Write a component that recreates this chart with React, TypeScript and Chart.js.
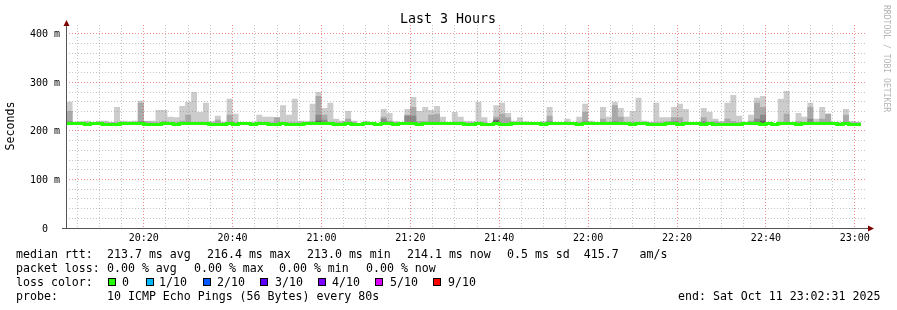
import { useEffect, useRef } from 'react';
import { Chart, registerables } from 'chart.js';

Chart.register(...registerables);

const WIDTH = 897;
const HEIGHT = 310;
const MONO = '"DejaVu Sans Mono", monospace';

// ---- time range (seconds of day) ----
const RANGE_START = '20:02:31';
const RANGE_END = '23:02:31';
const FIRST_STEP = '20:02:40';
const STEP_SECONDS = 80;

// ---- tick labels ----
const xMajorLabels = ['20:20', '20:40', '21:00', '21:20', '21:40', '22:00', '22:20', '22:40', '23:00'];
const xMinorFirst = '20:05';
const xMinorLast = '23:00';
const X_MINOR_SECONDS = 300;
const yGridValues = [0, 20, 40, 60, 80, 100, 120, 140, 160, 180, 200, 220, 240, 260, 280, 300, 320, 340, 360, 380, 400];
const yMajorValues = [0, 100, 200, 300, 400];
const yMajorLabels = ['0  ', '100 m', '200 m', '300 m', '400 m'];
const Y_MAX = 418;
const SMOKE_FLOOR = 213;

// ---- series (ms), one value per 80 s step ----
const medianRtt = [
  215, 215, 215, 213, 215, 215, 213, 213, 213, 215,
  215, 215, 215, 213, 213, 213, 215, 215, 213, 215,
  215, 215, 215, 215, 213, 213, 213, 215, 213, 215,
  215, 213, 215, 215, 213, 213, 215, 213, 213, 213,
  215, 215, 215, 215, 215, 213, 213, 215, 213, 213,
  215, 215, 213, 215, 215, 213, 215, 215, 215, 213,
  215, 215, 215, 215, 215, 215, 215, 213, 213, 215,
  213, 213, 215, 213, 213, 215, 215, 215, 215, 215,
  213, 215, 215, 215, 215, 215, 213, 215, 215, 215,
  215, 215, 215, 215, 215, 213, 215, 215, 213, 213,
  213, 215, 215, 213, 215, 215, 215, 213, 215, 213,
  213, 213, 213, 213, 215, 215, 215, 213, 215, 213,
  215, 215, 215, 213, 215, 215, 215, 215, 215, 215,
  213, 215, 213, 213,
];

const smokeMax = [
  260, 219, 220, 221, 216, 221, 221, 218, 249, 221,
  220, 221, 262, 220, 221, 243, 243, 229, 228, 251,
  260, 280, 239, 258, 220, 231, 218, 266, 235, 216,
  216, 217, 233, 229, 229, 228, 253, 233, 266, 221,
  220, 256, 280, 247, 258, 225, 221, 241, 221, 216,
  221, 218, 216, 245, 237, 220, 217, 245, 270, 241,
  249, 243, 251, 229, 217, 239, 229, 220, 220, 260,
  228, 216, 253, 258, 237, 221, 228, 220, 217, 216,
  220, 249, 218, 216, 225, 217, 229, 256, 221, 217,
  249, 229, 260, 247, 229, 241, 268, 221, 218, 258,
  228, 228, 249, 256, 245, 217, 216, 247, 239, 225,
  220, 258, 274, 231, 218, 233, 268, 272, 218, 216,
  266, 282, 218, 237, 229, 258, 225, 249, 235, 218,
  217, 245, 220, 219,
];

const smokeUpper = [
  241, 218, 218, 218, 216, 218, 218, 218, 218, 218,
  218, 218, 258, 220, 218, 218, 221, 218, 218, 221,
  233, 218, 218, 218, 218, 223, 218, 233, 218, 216,
  216, 217, 218, 218, 218, 228, 218, 218, 218, 218,
  218, 220, 272, 233, 218, 218, 218, 225, 218, 216,
  218, 218, 216, 229, 221, 218, 217, 233, 249, 220,
  220, 233, 235, 218, 217, 218, 218, 218, 218, 218,
  218, 216, 229, 235, 228, 218, 218, 218, 217, 216,
  218, 231, 218, 216, 218, 217, 218, 239, 218, 217,
  225, 218, 253, 229, 218, 218, 218, 218, 218, 218,
  218, 220, 228, 228, 218, 217, 216, 228, 218, 220,
  218, 225, 220, 218, 218, 221, 258, 249, 218, 216,
  218, 235, 218, 220, 218, 249, 218, 225, 235, 218,
  217, 233, 218, 218,
];

const smokeInner = [
  220, 216, 216, 216, 216, 216, 216, 216, 216, 216,
  216, 216, 220, 216, 216, 216, 216, 216, 216, 216,
  216, 216, 216, 216, 216, 216, 216, 216, 216, 216,
  216, 216, 216, 216, 216, 216, 216, 216, 216, 216,
  216, 216, 233, 223, 216, 216, 216, 216, 216, 216,
  216, 216, 216, 225, 216, 216, 216, 231, 231, 216,
  216, 216, 216, 216, 216, 216, 216, 216, 216, 216,
  216, 216, 224, 216, 216, 216, 216, 216, 216, 216,
  216, 220, 216, 216, 216, 216, 216, 220, 216, 216,
  216, 216, 220, 216, 216, 216, 216, 216, 216, 216,
  216, 216, 220, 216, 216, 216, 216, 220, 216, 216,
  216, 216, 216, 216, 216, 216, 225, 233, 216, 216,
  216, 216, 216, 216, 216, 225, 216, 216, 216, 216,
  216, 216, 216, 216,
];

const smokeCore = [
  215, 215, 215, 215, 215, 215, 215, 215, 215, 215,
  215, 215, 215, 215, 215, 215, 215, 215, 215, 215,
  215, 215, 215, 215, 215, 215, 215, 215, 215, 215,
  215, 215, 215, 215, 215, 215, 215, 215, 215, 215,
  215, 215, 221, 215, 215, 215, 215, 215, 215, 215,
  215, 215, 215, 215, 215, 215, 215, 215, 215, 215,
  215, 215, 215, 215, 215, 215, 215, 215, 215, 215,
  215, 215, 222, 215, 215, 215, 215, 215, 215, 215,
  215, 215, 215, 215, 215, 215, 215, 215, 215, 215,
  215, 215, 215, 215, 215, 215, 215, 215, 215, 215,
  215, 215, 215, 215, 215, 215, 215, 215, 215, 215,
  215, 215, 215, 215, 215, 215, 218, 221, 215, 215,
  215, 215, 215, 215, 215, 215, 215, 215, 215, 215,
  215, 215, 215, 215,
];

// ---- legend texts ----
const statLine1 = [
  ['median rtt:', 16], ['213.7 ms avg', 107], ['216.4 ms max', 207], ['213.0 ms min', 307],
  ['214.1 ms now', 407], ['0.5 ms sd  415.7   am/s', 507],
] as const;
const statLine2 = [
  ['packet loss:', 16], ['0.00 % avg', 107], ['0.00 % max', 194], ['0.00 % min', 279], ['0.00 % now', 366],
] as const;
const lossLabels = ['0', '1/10', '2/10', '3/10', '4/10', '5/10', '9/10'];
const lossColors = ['#26ff00', '#00b8ff', '#0059ff', '#5e00ff', '#7e00ff', '#dd00ff', '#ff0000'];
const lossBoxX = [108, 146, 203, 260, 318, 375, 433];
const lossTextX = [122, 159, 217, 275, 332, 390, 448];
const PROBE_TEXT = '10 ICMP Echo Pings (56 Bytes) every 80s';
const END_TEXT = 'end: Sat Oct 11 23:02:31 2025';
const TITLE = 'Last 3 Hours';
const Y_TITLE = 'Seconds';
const CREDIT = 'RRDTOOL / TOBI OETIKER';

const GRID = 'rgba(140,140,140,0.5)';
const MGRID = 'rgba(232,60,60,0.6)';
const AXIS = '#555555';
const ARROW = '#7f0000';

const toSec = (s: string) => {
  const p = s.split(':').map(Number);
  return p[0] * 3600 + p[1] * 60 + (p[2] || 0);
};

function stepSeries(values: number[]) {
  const first = toSec(FIRST_STEP);
  const pts = values.map((v, k) => ({ x: first + k * STEP_SECONDS, y: v }));
  pts.push({ x: first + values.length * STEP_SECONDS, y: values[values.length - 1] });
  return pts;
}

export default function App() {
  const ref = useRef<HTMLCanvasElement | null>(null);

  useEffect(() => {
    if (!ref.current) return;
    const startSec = toSec(RANGE_START);
    const endSec = toSec(RANGE_END);
    const majorSecs = xMajorLabels.map(toSec);
    const xLabelMap = new Map<number, string>();
    majorSecs.forEach((s, i) => xLabelMap.set(s, xMajorLabels[i]));
    const xTicks: number[] = [];
    for (let s = toSec(xMinorFirst); s <= toSec(xMinorLast); s += X_MINOR_SECONDS) xTicks.push(s);
    const yLabelMap = new Map<number, string>();
    yMajorValues.forEach((v, i) => yLabelMap.set(v, yMajorLabels[i]));

    const smokeDs = (data: number[], color: string) => ({
      data: stepSeries(data),
      stepped: true,
      borderWidth: 0,
      borderColor: 'rgba(0,0,0,0)',
      backgroundColor: color,
      pointRadius: 0,
      fill: { value: SMOKE_FLOOR },
    });

    const textPlugin = {
      id: 'rrdText',
      afterDraw(chart: any) {
        const ctx = chart.ctx as CanvasRenderingContext2D;
        const a = chart.chartArea;
        // median line above the grid
        ctx.save();
        ctx.beginPath();
        ctx.rect(a.left, a.top, a.right - a.left, a.bottom - a.top);
        ctx.clip();
        chart.getDatasetMeta(0).dataset.draw(ctx, a);
        ctx.restore();

        ctx.save();
        // axes
        ctx.strokeStyle = AXIS;
        ctx.lineWidth = 1;
        ctx.beginPath();
        ctx.moveTo(a.left + 0.5, a.top - 3);
        ctx.lineTo(a.left + 0.5, a.bottom + 1);
        ctx.moveTo(a.left - 4, a.bottom + 0.5);
        ctx.lineTo(a.right + 3, a.bottom + 0.5);
        ctx.stroke();
        ctx.fillStyle = ARROW;
        ctx.beginPath();
        ctx.moveTo(a.left + 0.5, a.top - 5);
        ctx.lineTo(a.left - 2.5, a.top + 1);
        ctx.lineTo(a.left + 3.5, a.top + 1);
        ctx.closePath();
        ctx.fill();
        ctx.beginPath();
        ctx.moveTo(a.right + 8, a.bottom + 0.5);
        ctx.lineTo(a.right + 2, a.bottom - 2.5);
        ctx.lineTo(a.right + 2, a.bottom + 3.5);
        ctx.closePath();
        ctx.fill();

        // title
        ctx.fillStyle = '#000';
        ctx.font = `13.3px ${MONO}`;
        ctx.textAlign = 'center';
        ctx.textBaseline = 'alphabetic';
        ctx.fillText(TITLE, 448, 23);

        // y title
        ctx.save();
        ctx.font = `11.6px ${MONO}`;
        ctx.translate(11, 126);
        ctx.rotate(-Math.PI / 2);
        ctx.textBaseline = 'middle';
        ctx.fillText(Y_TITLE, 0, 0);
        ctx.restore();

        // credit
        ctx.save();
        ctx.font = `8.1px ${MONO}`;
        ctx.fillStyle = '#b4b4b4';
        ctx.translate(886, 5);
        ctx.rotate(Math.PI / 2);
        ctx.textAlign = 'left';
        ctx.textBaseline = 'middle';
        ctx.fillText(CREDIT, 0, 0);
        ctx.restore();

        // legend
        ctx.font = `11.6px ${MONO}`;
        ctx.textAlign = 'left';
        ctx.textBaseline = 'alphabetic';
        ctx.fillStyle = '#000';
        statLine1.forEach(([t, x]) => ctx.fillText(t, x, 258));
        statLine2.forEach(([t, x]) => ctx.fillText(t, x, 272));
        ctx.fillText('loss color:', 16, 286);
        lossLabels.forEach((t, i) => {
          ctx.fillStyle = lossColors[i];
          ctx.fillRect(lossBoxX[i], 278, 8, 8);
          ctx.strokeStyle = '#000';
          ctx.strokeRect(lossBoxX[i] + 0.5, 278.5, 7, 7);
          ctx.fillStyle = '#000';
          ctx.fillText(t, lossTextX[i], 286);
        });
        ctx.fillText('probe:', 16, 300);
        ctx.fillText(PROBE_TEXT, 107, 300);
        ctx.fillText(END_TEXT, 678, 300);
        ctx.restore();
      },
    };

    const chart = new Chart(ref.current, {
      type: 'line',
      data: {
        datasets: [
          {
            data: stepSeries(medianRtt),
            stepped: true,
            borderColor: '#26ff00',
            borderWidth: 3,
            pointRadius: 0,
            fill: false,
          } as any,
          smokeDs(smokeCore, '#5a5a5a'),
          smokeDs(smokeInner, '#8a8a8a'),
          smokeDs(smokeUpper, '#a9a9a9'),
          smokeDs(smokeMax, '#cccccc'),
        ],
      },
      options: {
        animation: false,
        responsive: false,
        devicePixelRatio: 1,
        layout: { padding: { left: 0, right: 31, top: 25, bottom: 0 } },
        plugins: { legend: { display: false }, tooltip: { enabled: false }, title: { display: false } },
        scales: {
          x: {
            type: 'linear',
            min: startSec,
            max: endSec,
            afterBuildTicks: (s: any) => { s.ticks = xTicks.map((v) => ({ value: v })); },
            afterFit: (s: any) => { s.height = HEIGHT - 228; },
            grid: {
              z: 1,
              drawTicks: false,
              lineWidth: 1,
              color: (c: any) => (xLabelMap.has(c.tick?.value) ? MGRID : GRID),
            },
            border: { display: false, dash: [1, 2] },
            ticks: {
              autoSkip: false,
              maxRotation: 0,
              minRotation: 0,
              padding: 4,
              color: '#000',
              font: { family: MONO, size: 10 },
              callback: (v: any) => xLabelMap.get(Number(v)) ?? '',
            },
          },
          y: {
            type: 'linear',
            min: 0,
            max: Y_MAX,
            afterBuildTicks: (s: any) => { s.ticks = yGridValues.map((v) => ({ value: v })); },
            afterFit: (s: any) => { s.width = 66; },
            grid: {
              z: 1,
              drawTicks: false,
              lineWidth: 1,
              color: (c: any) => (yLabelMap.has(c.tick?.value) ? MGRID : GRID),
            },
            border: { display: false, dash: [1, 2] },
            ticks: {
              autoSkip: false,
              padding: 6,
              labelOffset: 1,
              color: '#000',
              font: { family: MONO, size: 10 },
              callback: (v: any) => yLabelMap.get(Number(v)) ?? '',
            },
          },
        },
      } as any,
      plugins: [textPlugin],
    });
    return () => chart.destroy();
  }, []);

  return (
    <div style={{ position: 'fixed', left: 0, top: 0, width: WIDTH, height: HEIGHT, background: '#fff' }}>
      <canvas ref={ref} width={WIDTH} height={HEIGHT} />
    </div>
  );
}
